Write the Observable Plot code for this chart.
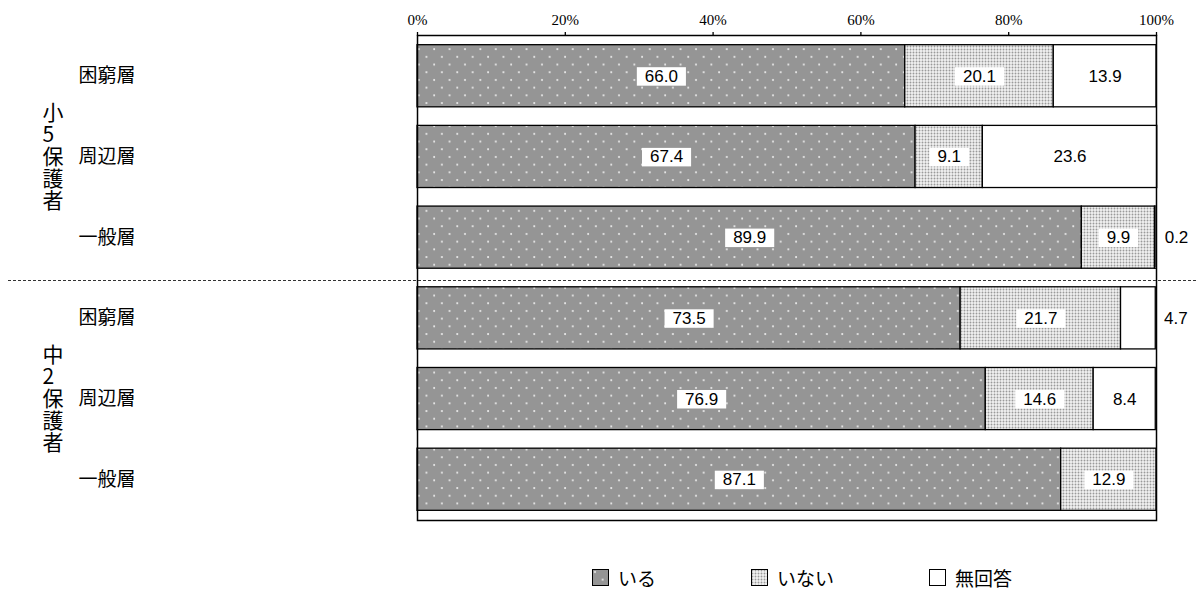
<!DOCTYPE html>
<html>
<head>
<meta charset="utf-8">
<script src="https://cdn.jsdelivr.net/npm/d3@7"></script>
<script src="https://cdn.jsdelivr.net/npm/@observablehq/plot@0.6"></script>
<style>
  html, body { margin: 0; padding: 0; background: #fff; }
  #legend { position: relative; width: 1198px; height: 50px; font-family: 'Noto Sans CJK JP', 'Noto Sans', sans-serif; font-size: 19px; color: #000; }
  #legend .item { position: absolute; top: 22px; height: 30px; display: flex; align-items: center; }
  #legend .item svg { margin-right: 9px; }
</style>
</head>
<body>
<svg width="0" height="0" style="position:absolute">
  <defs>
    <pattern id="pIru" patternUnits="userSpaceOnUse" width="15.4" height="15.4">
      <rect width="15.4" height="15.4" fill="#959595"></rect>
      <circle cx="3" cy="3" r="1" fill="#efefef"></circle>
      <circle cx="10.7" cy="10.7" r="1" fill="#efefef"></circle>
    </pattern>
    <pattern id="pInai" patternUnits="userSpaceOnUse" width="3" height="3">
      <rect width="3" height="3" fill="#f2f2f2"></rect>
      <circle cx="1.5" cy="1.5" r="0.95" fill="#9a9a9a"></circle>
    </pattern>
  </defs>
</svg>
<div id="chart"></div>
<div id="legend"></div>
<script>
// ---- data ----
const groups = ["小5保護者", "中2保護者"];
const strata = ["困窮層", "周辺層", "一般層"];
const categories = ["いる", "いない", "無回答"];
const iru      = [66.0, 67.4, 89.9, 73.5, 76.9, 87.1];
const inai     = [20.1,  9.1,  9.9, 21.7, 14.6, 12.9];
const mukaitou = [13.9, 23.6,  0.2,  4.7,  8.4,  0.0];
const xTicks = [0, 20, 40, 60, 80, 100];

const series = [iru, inai, mukaitou];
const rows = [];
groups.forEach((g, gi) => strata.forEach((s, si) => rows.push({key: g + "|" + s, group: g, stratum: s, i: gi * 3 + si})));
const data = rows.flatMap(r => categories.map((c, ci) => ({key: r.key, category: c, value: series[ci][r.i]})));
const groupLabels = groups.map((g, gi) => ({key: rows[gi * 3 + 1].key, label: [...g].join("\n")}));

const fmt = d3.format(".1f");
const isOutside = d => d.category === "無回答" && d.value > 0 && d.value < 6;
const isInside = d => d.value > 0 && !isOutside(d);
const numFont = "'Liberation Sans', Arial, sans-serif";

const chart = Plot.plot({
  width: 1198,
  height: 540,
  marginLeft: 417,
  marginRight: 42,
  marginTop: 35,
  marginBottom: 20,
  style: {fontFamily: "'Noto Sans CJK JP', 'Noto Sans', sans-serif", fontSize: "16px", background: "#fff", overflow: "visible"},
  x: {domain: [0, 100], axis: null},
  y: {domain: rows.map(r => r.key), paddingInner: 0.23, paddingOuter: 0.12, round: false, axis: null},
  color: {domain: categories, range: ["url(#pIru)", "url(#pInai)", "#ffffff"]},
  marks: [
    Plot.barX(data, Plot.stackX({x: "value", y: "key", fill: "category", stroke: "#000", strokeWidth: 1.3})),
    Plot.frame({stroke: "#000", strokeWidth: 1.5}),
    Plot.axisX({anchor: "top", label: null, ticks: xTicks, tickFormat: d => d + "%", tickSize: 4, tickPadding: 7,
      fontFamily: "'Liberation Serif', 'DejaVu Serif', serif", fontSize: 15, strokeWidth: 1.3}),
    Plot.text(data, Plot.stackX({x: "value", y: "key", text: d => isInside(d) ? fmt(d.value) : null,
      ariaLabel: () => "vlabel", fontSize: 17, fontFamily: numFont})),
    Plot.text(data, Plot.stackX2({x: "value", y: "key", text: d => isOutside(d) ? fmt(d.value) : null,
      dx: 20, fontSize: 17, fontFamily: numFont})),
    Plot.text(rows, {y: "key", text: "stratum", frameAnchor: "left", dx: -339, textAnchor: "start", fontSize: 19}),
    Plot.text(groupLabels, {y: "key", text: "label", frameAnchor: "left", dx: -375, fontSize: 21, lineHeight: 1.05})
  ]
});
document.getElementById("chart").appendChild(chart);

// white boxes behind the value labels
d3.select(chart).selectAll('text[aria-label="vlabel"]').each(function () {
  const b = this.getBBox();
  const t = this.getAttribute("transform");
  d3.select(this.parentNode).insert("rect", () => this)
    .attr("x", b.x - 8).attr("y", b.y + 0.5).attr("width", b.width + 16).attr("height", b.height - 0.5)
    .attr("fill", "#fff").attr("transform", t);
});

// dashed divider between the two groups, from the y scale
const ys = chart.scale("y");
const yTop4 = ys.apply(rows[3].key);
const yBot3 = ys.apply(rows[2].key) + ys.bandwidth;
const yDiv = (yTop4 + yBot3) / 2 + 3;
d3.select(chart).append("line")
  .attr("x1", 8).attr("x2", 1198).attr("y1", yDiv).attr("y2", yDiv)
  .attr("stroke", "#333").attr("stroke-width", 1).attr("stroke-dasharray", "3,2");

// legend
const legendFills = ["url(#pIru)", "url(#pInai)", "#ffffff"];
const legendLeft = [592, 751, 929];
const legend = d3.select("#legend");
categories.forEach((c, i) => {
  const item = legend.append("div").attr("class", "item").style("left", legendLeft[i] + "px");
  const sw = item.append("svg").attr("width", 17).attr("height", 17);
  sw.append("rect").attr("x", 0.5).attr("y", 0.5).attr("width", 16).attr("height", 16)
    .attr("fill", legendFills[i]).attr("stroke", "#000").attr("stroke-width", 1);
  item.append("span").text(c);
});
</script>
</body>
</html>
